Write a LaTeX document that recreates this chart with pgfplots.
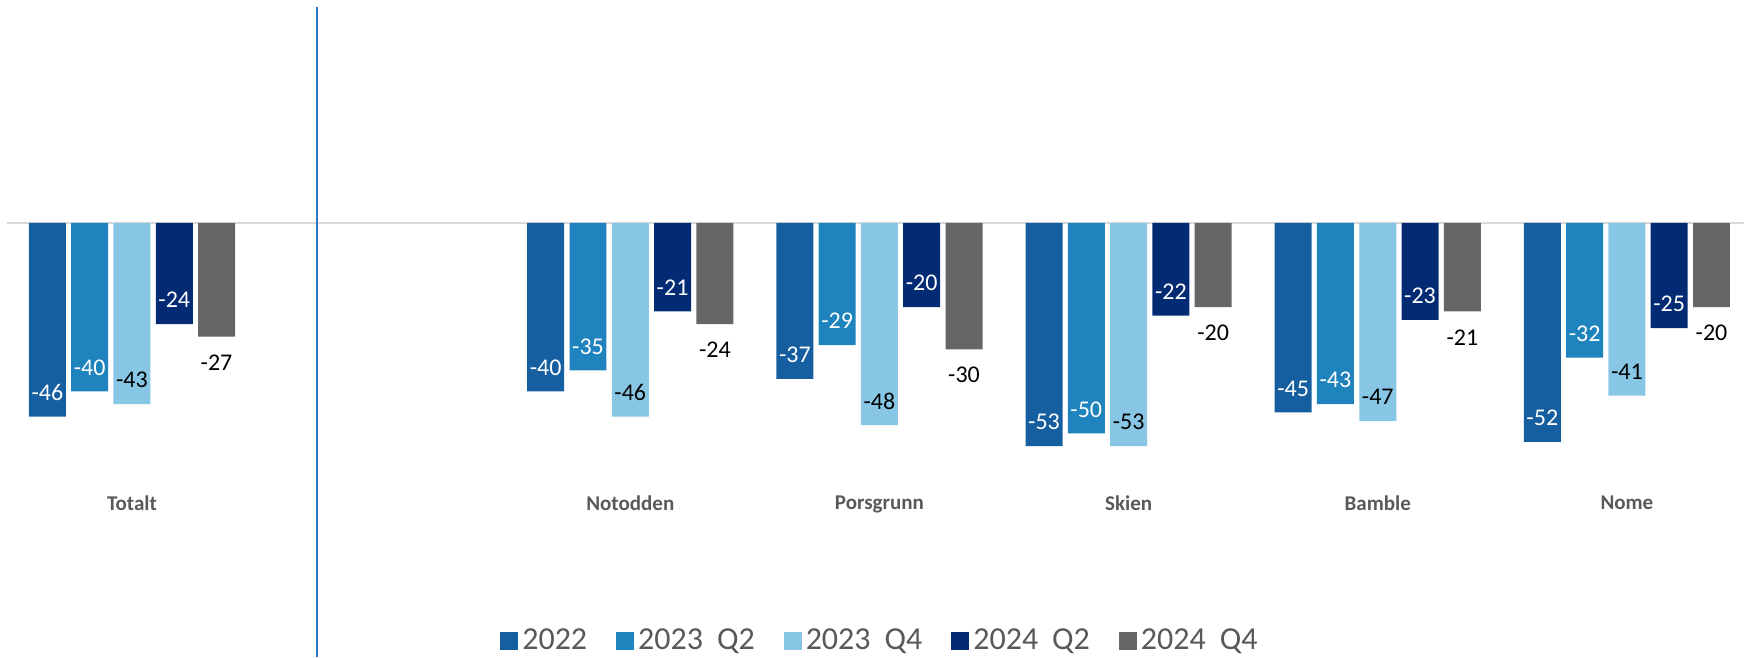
\documentclass[border=0pt]{standalone}
\usepackage{fontspec}
\setmainfont{Carlito}
\usepackage{pgfplots}
\pgfplotsset{compat=1.18}

\definecolor{c2022}{HTML}{155FA0}
\definecolor{c23q2}{HTML}{1F83BE}
\definecolor{c23q4}{HTML}{87C6E5}
\definecolor{c24q2}{HTML}{032B73}
\definecolor{c24q4}{HTML}{666666}
\definecolor{txtgray}{HTML}{595959}
\definecolor{zerogray}{HTML}{D9D9D9}
\definecolor{vline}{HTML}{2E75C5}

% x: 0 = Totalt, 1 = empty slot, 2..6 = kommuner
\pgfplotstableread{
x  y2022 y23q2 y23q4 y24q2 y24q4
0  -46   -40   -43   -24   -27
2  -40   -35   -46   -21   -24
3  -37   -29   -48   -20   -30
4  -53   -50   -53   -22   -20
5  -45   -43   -47   -23   -21
6  -52   -32   -41   -25   -20
}\data

\newcommand{\qsp}{\hspace{7pt}}

\begin{document}
\begin{tikzpicture}
\begin{axis}[
    scale only axis,
    width=868.5pt, height=233.7pt,
    xmin=-0.5, xmax=6.47,
    ymin=-61, ymax=50,
    clip=false,
    ybar=2.65pt,
    bar width=18.5pt,
    axis line style={draw=none},
    ytick=\empty,
    xtick={0,2,3,4,5,6},
    xticklabels={Totalt,Notodden,Porsgrunn,Skien,Bamble,Nome},
    xtick style={draw=none},
    x tick label style={font=\bfseries\fontsize{10.5}{12}\selectfont, text=txtgray},
    /pgf/number format/assume math mode=true,
    nodes near coords,
    nodes near coords style={font=\fontsize{12}{14}\selectfont},
    legend columns=-1,
    legend style={draw=none, at={(0.503,-0.344)}, anchor=center,
        font=\fontsize{16}{19}\selectfont, text=txtgray,
        /tikz/every even column/.append style={column sep=12.5pt}},
    legend image code/.code={\fill[#1,draw=none] (0pt,-4.5pt) rectangle (9pt,4.5pt);},
]
\coordinate (bbA) at (axis cs:-0.5297,52.97);
\coordinate (bbB) at (axis cs:6.47,-103.1);
\draw[zerogray, line width=1pt] (axis cs:-0.5,0) -- (axis cs:6.47,0);

\addplot[fill=c2022, draw=none,
    every node near coord/.append style={white, anchor=center, yshift=12pt}]
    table[x=x, y=y2022] {\data};
\addplot[fill=c23q2, draw=none,
    every node near coord/.append style={white, anchor=center, yshift=12pt}]
    table[x=x, y=y23q2] {\data};
\addplot[fill=c23q4, draw=none,
    every node near coord/.append style={black, anchor=center, yshift=12pt}]
    table[x=x, y=y23q4] {\data};
\addplot[fill=c24q2, draw=none,
    every node near coord/.append style={white, anchor=center, yshift=12pt}]
    table[x=x, y=y24q2] {\data};
\addplot[fill=c24q4, draw=none,
    every node near coord/.append style={black, anchor=center, yshift=-13pt}]
    table[x=x, y=y24q4] {\data};

\draw[vline, line width=0.9pt] (axis cs:0.741,51.3) -- (axis cs:0.741,-103.1);

\legend{2022, 2023\qsp Q2, 2023\qsp Q4, 2024\qsp Q2, 2024\qsp Q4}
\end{axis}
\pgfresetboundingbox
\path (bbA) rectangle (bbB);
\end{tikzpicture}
\end{document}
